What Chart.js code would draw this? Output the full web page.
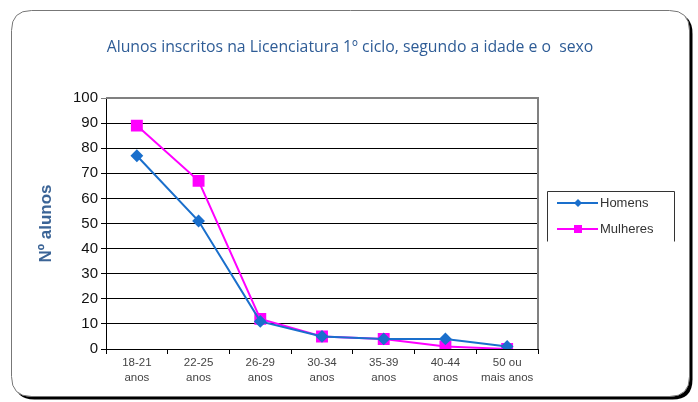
<!DOCTYPE html>
<html>
<head>
<meta charset="utf-8">
<script src="https://cdn.jsdelivr.net/npm/chart.js@4.4.0/dist/chart.umd.min.js"></script>
<style>
  html, body { margin: 0; padding: 0; background: #fff; }
  #wrap { width: 698px; height: 402px; position: relative; }
</style>
</head>
<body>
<div id="wrap"><canvas id="chart-area" width="698" height="402"></canvas></div>
<script>
var categories = [['18-21', 'anos'], ['22-25', 'anos'], ['26-29', 'anos'], ['30-34', 'anos'],
                  ['35-39', 'anos'], ['40-44', 'anos'], ['50 ou', 'mais anos']];
var homens = [77, 51, 11, 5, 4, 4, 1];
var mulheres = [89, 67, 12, 5, 4, 1, 0];
var seriesNames = ['Homens', 'Mulheres'];
var yTicks = [0, 10, 20, 30, 40, 50, 60, 70, 80, 90, 100];
var chartTitle = 'Alunos inscritos na Licenciatura 1º ciclo, segundo a idade e o  sexo';

var colors = {
    blue: '#1a6fcc',
    magenta: '#ff00ff',
    title: '#2e5c96',
    axisTitle: '#3b6496',
    grey: '#808080'
};

function roundRect(ctx, x, y, w, h, r) {
    ctx.beginPath();
    ctx.moveTo(x + r, y);
    ctx.lineTo(x + w - r, y);
    ctx.quadraticCurveTo(x + w, y, x + w, y + r);
    ctx.lineTo(x + w, y + h - r);
    ctx.quadraticCurveTo(x + w, y + h, x + w - r, y + h);
    ctx.lineTo(x + r, y + h);
    ctx.quadraticCurveTo(x, y + h, x, y + h - r);
    ctx.lineTo(x, y + r);
    ctx.quadraticCurveTo(x, y, x + r, y);
    ctx.closePath();
}

// outer rounded frame with black shadow, centred title, grey plot border
var framePlugin = {
    id: 'frame',
    beforeDraw: function (chart) {
        var ctx = chart.ctx;
        ctx.save();
        ctx.fillStyle = '#fff';
        ctx.fillRect(0, 0, chart.width, chart.height);
        roundRect(ctx, 14.5, 13.5, 678, 386, 20);
        ctx.fillStyle = '#000';
        ctx.fill();
        roundRect(ctx, 11.5, 10.5, 678, 386, 20);
        ctx.fillStyle = '#fff';
        ctx.fill();
        ctx.strokeStyle = '#777';
        ctx.lineWidth = 1;
        ctx.stroke();

        ctx.fillStyle = colors.title;
        ctx.font = '15.8px "Open Sans", sans-serif';
        ctx.textAlign = 'center';
        ctx.textBaseline = 'middle';
        ctx.fillText(chartTitle, 350, 47);
        ctx.restore();
    },
    beforeDatasetsDraw: function (chart) {
        var a = chart.chartArea, ctx = chart.ctx;
        ctx.save();
        ctx.strokeStyle = colors.grey;
        ctx.lineWidth = 2;
        ctx.beginPath();
        ctx.moveTo(a.left, a.top);
        ctx.lineTo(a.right, a.top);
        ctx.lineTo(a.right, a.bottom);
        ctx.stroke();
        ctx.restore();
    }
};

// legend box drawn from the datasets
var legendPlugin = {
    id: 'boxLegend',
    afterDraw: function (chart) {
        var ctx = chart.ctx;
        var x = 547.5, y = 191.5, w = 127, h = 50;
        ctx.save();
        ctx.strokeStyle = '#333';
        ctx.lineWidth = 1;
        ctx.beginPath();
        ctx.moveTo(x, y + h);
        ctx.lineTo(x, y);
        ctx.lineTo(x + w, y);
        ctx.lineTo(x + w, y + h);
        ctx.stroke();
        ctx.font = '13px "Liberation Sans", Arial, sans-serif';
        ctx.textBaseline = 'middle';
        chart.data.datasets.forEach(function (ds, i) {
            var cy = 203 + i * 26;
            ctx.strokeStyle = ds.borderColor;
            ctx.lineWidth = 2;
            ctx.beginPath();
            ctx.moveTo(557, cy);
            ctx.lineTo(598, cy);
            ctx.stroke();
            ctx.fillStyle = ds.backgroundColor;
            if (ds.pointStyle === 'rect') {
                ctx.fillRect(574, cy - 4, 8, 8);
            } else {
                ctx.beginPath();
                ctx.moveTo(578, cy - 4);
                ctx.lineTo(582, cy);
                ctx.lineTo(578, cy + 4);
                ctx.lineTo(574, cy);
                ctx.closePath();
                ctx.fill();
            }
            ctx.fillStyle = '#333';
            ctx.fillText(ds.label, 600, cy);
        });
        ctx.restore();
    }
};

window.onload = function () {
    var ctx = document.getElementById('chart-area').getContext('2d');
    window.myLine = new Chart(ctx, {
        type: 'line',
        data: {
            labels: categories,
            datasets: [{
                label: seriesNames[0],
                data: homens,
                borderColor: colors.blue,
                backgroundColor: colors.blue,
                borderWidth: 2,
                pointStyle: 'rectRot',
                pointRadius: 5,
                tension: 0
            }, {
                label: seriesNames[1],
                data: mulheres,
                borderColor: colors.magenta,
                backgroundColor: colors.magenta,
                borderWidth: 2,
                pointStyle: 'rect',
                pointRadius: 7,
                tension: 0
            }]
        },
        options: {
            responsive: false,
            animation: false,
            layout: {
                padding: { left: 36, right: 160, top: 98, bottom: 12 }
            },
            plugins: {
                legend: { display: false },
                tooltip: { enabled: false },
                title: { display: false }
            },
            scales: {
                x: {
                    offset: true,
                    grid: {
                        offset: true,
                        drawOnChartArea: false,
                        color: '#000',
                        tickLength: 5
                    },
                    border: { color: '#000', width: 1 },
                    ticks: {
                        color: '#444',
                        maxRotation: 0,
                        autoSkip: false,
                        padding: 2,
                        font: { family: '"Liberation Sans", Arial, sans-serif', size: 11.5, lineHeight: 1.25 }
                    },
                    afterFit: function (scale) { scale.height = 41; }
                },
                y: {
                    min: 0,
                    max: 100,
                    afterBuildTicks: function (scale) {
                        scale.ticks = yTicks.map(function (v) { return { value: v }; });
                    },
                    grid: {
                        color: function (c) { return c.tick && c.tick.value === 100 ? colors.grey : '#000'; },
                        tickLength: 5
                    },
                    border: { color: '#000', width: 1 },
                    ticks: {
                        color: '#111',
                        padding: 3,
                        font: { family: '"Liberation Sans", Arial, sans-serif', size: 15 }
                    },
                    title: {
                        display: true,
                        text: 'Nº alunos',
                        color: colors.axisTitle,
                        padding: { top: 0, bottom: 0 },
                        font: { family: '"Liberation Sans", Arial, sans-serif', size: 17, weight: 'bold' }
                    },
                    afterFit: function (scale) { scale.width = 70; }
                }
            }
        },
        plugins: [framePlugin, legendPlugin]
    });
};
</script>
</body>
</html>
